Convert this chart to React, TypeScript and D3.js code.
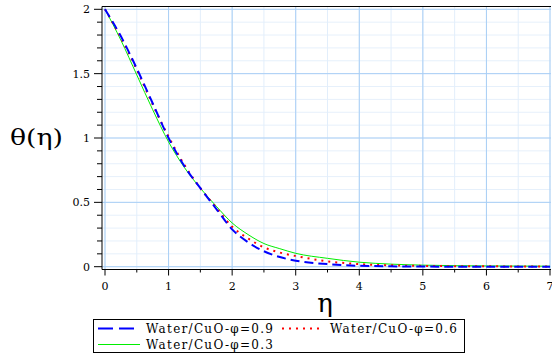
import React from "react";
import * as d3 from "d3";

const etaValues = [0, 0.25, 0.5, 0.75, 1, 1.25, 1.5, 1.75, 2, 2.25, 2.5, 2.75, 3, 3.5, 4, 4.5, 5, 5.5, 6, 6.5, 7];
const thetaPhi09 = [2, 1.79, 1.54, 1.27, 1.0, 0.78, 0.61, 0.45, 0.29, 0.19, 0.12, 0.075, 0.047, 0.02, 0.007, 0.003, 0.001, 0, 0, 0, 0];
const thetaPhi06 = [2, 1.78, 1.53, 1.26, 1.01, 0.79, 0.61, 0.46, 0.31, 0.22, 0.15, 0.11, 0.083, 0.042, 0.02, 0.011, 0.006, 0.004, 0.003, 0.002, 0.002];
const thetaPhi03 = [2, 1.76, 1.49, 1.22, 0.97, 0.77, 0.61, 0.47, 0.34, 0.25, 0.18, 0.14, 0.104, 0.065, 0.035, 0.02, 0.012, 0.008, 0.006, 0.005, 0.004];
const seriesLabels = ["Water/CuO-φ=0.9", "Water/CuO-φ=0.6", "Water/CuO-φ=0.3"];
const xTickLabels = ["0", "1", "2", "3", "4", "5", "6", "7"];
const yTickLabels = ["0", "0.5", "1", "1.5", "2"];

const W = 552, H = 358;
const font = "DejaVu Serif";

export default function App() {
  const x = d3.scaleLinear().domain([0, 7]).range([105, 550]);
  const y = d3.scaleLinear().domain([0, 2]).range([266.7, 9.3]);
  const axL = 102, axR = 551, axT = 6.5, axB = 269.5;

  const line = d3.line<number>().x((_, i) => x(etaValues[i])).y((d) => y(d)).curve(d3.curveMonotoneX);

  const xMinor = d3.range(0, 7.01, 0.5);
  const yMinor = d3.range(0, 2.001, 0.1);

  const series = [
    { data: thetaPhi09, color: "#0000ff", width: 2, dash: "9,5", legendDash: "15,6" },
    { data: thetaPhi06, color: "#ff0000", width: 2, dash: "2,5", legendDash: "2,5" },
    { data: thetaPhi03, color: "#00ee00", width: 1, dash: undefined, legendDash: undefined },
  ];

  return (
    <svg width={W} height={H} style={{ position: "absolute", left: 0, top: 0 }}>
      <rect x={0} y={0} width={W} height={H} fill="#fff" />
      {yMinor.map((v, i) => (
        <line key={"hy" + i} x1={axL} x2={axR} y1={y(v)} y2={y(v)} stroke="#e6f0fb" strokeWidth={1} />
      ))}
      {xMinor.map((v, i) => (
        <line key={"vx" + i} x1={x(v)} x2={x(v)} y1={axT} y2={axB} stroke="#e2eefb" strokeWidth={1} />
      ))}
      {d3.range(0, 2.01, 0.5).map((v, i) => (
        <line key={"HY" + i} x1={axL} x2={axR} y1={y(v)} y2={y(v)} stroke="#a9cff5" strokeWidth={1} />
      ))}
      {d3.range(0, 7.01, 1).map((v, i) => (
        <line key={"VX" + i} x1={x(v)} x2={x(v)} y1={axT} y2={axB} stroke="#a9cff5" strokeWidth={1} />
      ))}
      <line x1={axL} x2={axL} y1={axT} y2={axB} stroke="#000" strokeWidth={1} />
      <line x1={axL} x2={axR} y1={axB} y2={axB} stroke="#000" strokeWidth={1} />
      <line x1={axL} x2={axR} y1={axT} y2={axT} stroke="#000" strokeWidth={1} />
      {yMinor.map((v, i) => {
        const major = i % 5 === 0;
        return <line key={"ty" + i} x1={axL - (major ? 8 : 5)} x2={axL} y1={y(v)} y2={y(v)} stroke="#000" strokeWidth={1} />;
      })}
      {xMinor.map((v, i) => {
        const major = i % 2 === 0;
        return <line key={"tx" + i} x1={x(v)} x2={x(v)} y1={axB} y2={axB + (major ? 6 : 3)} stroke="#000" strokeWidth={1} />;
      })}
      {yTickLabels.map((t, i) => (
        <text key={"yl" + i} x={90} y={y(i * 0.5)} dy="0.35em" textAnchor="end" fontSize={11} fontFamily={font}>{t}</text>
      ))}
      {xTickLabels.map((t, i) => (
        <text key={"xl" + i} x={x(i)} y={290} textAnchor="middle" fontSize={11} fontFamily={font}>{t}</text>
      ))}
      <text x={10} y={145} fontSize={22} fontFamily={font} textLength={53} lengthAdjust="spacingAndGlyphs">θ(η)</text>
      <text x={325} y={312} fontSize={26} fontFamily={font} textAnchor="middle">η</text>
      {series.map((s, i) => (
        <path key={"s" + i} d={line(s.data) || ""} fill="none" stroke={s.color} strokeWidth={s.width} strokeDasharray={s.dash} />
      )).reverse()}
      <rect x={93.5} y={319.5} width={371} height={33} fill="#fff" stroke="#000" strokeWidth={1} />
      <line x1={98} x2={139} y1={328.5} y2={328.5} stroke={series[0].color} strokeWidth={2} strokeDasharray={series[0].legendDash} />
      <text x={146} y={333} fontSize={12} fontFamily={font} textLength={127} lengthAdjust="spacing">{seriesLabels[0]}</text>
      <line x1={282} x2={320} y1={328.5} y2={328.5} stroke={series[1].color} strokeWidth={2} strokeDasharray={series[1].legendDash} />
      <text x={330} y={333} fontSize={12} fontFamily={font} textLength={127} lengthAdjust="spacing">{seriesLabels[1]}</text>
      <line x1={98} x2={140} y1={344.5} y2={344.5} stroke={series[2].color} strokeWidth={1} />
      <text x={146} y={349} fontSize={12} fontFamily={font} textLength={127} lengthAdjust="spacing">{seriesLabels[2]}</text>
    </svg>
  );
}
